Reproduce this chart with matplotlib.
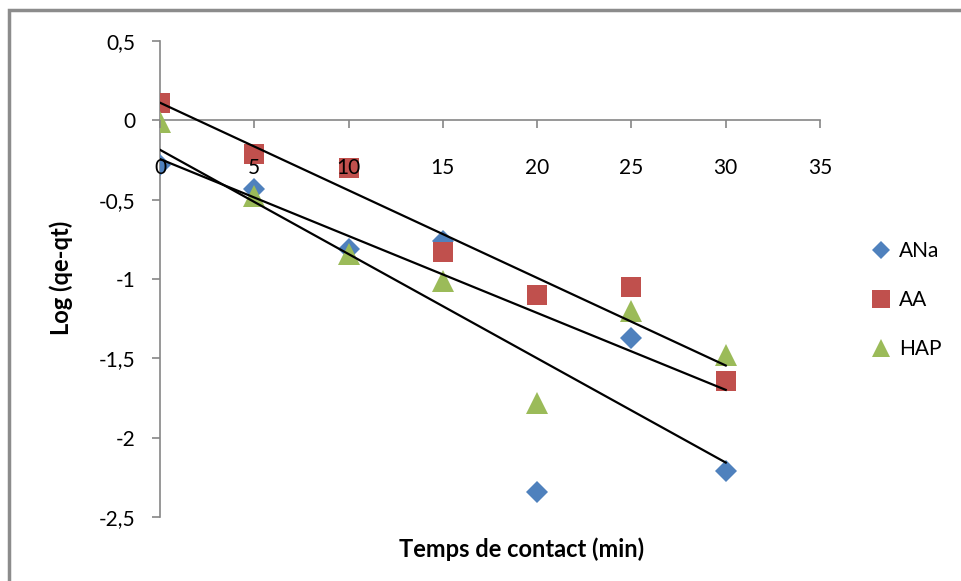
import numpy as np
import matplotlib
matplotlib.use("Agg")
import matplotlib.pyplot as plt
from matplotlib.patches import Rectangle
from matplotlib.ticker import FuncFormatter

plt.rcParams['font.family'] = ['Lato', 'DejaVu Sans']

time = [0, 5, 10, 15, 20, 25, 30]
ana = [-0.28, -0.43, -0.81, -0.76, -2.34, -1.37, -2.21]
aa = [0.11, -0.21, -0.30, -0.83, -1.10, -1.05, -1.64]
hap = [-0.01, -0.48, -0.84, -1.01, -1.78, -1.20, -1.48]
series_names = ['ANa', 'AA', 'HAP']
x_ticks = [0, 5, 10, 15, 20, 25, 30, 35]
y_ticks = [-2.5, -2, -1.5, -1, -0.5, 0, 0.5]

colors = ['#4F81BD', '#C0504D', '#9BBB59']
markers = ['D', 's', '^']
msizes = [11, 15, 15.5]

fig = plt.figure(figsize=(9.61, 5.81), dpi=100)
ax = fig.add_axes([0.1665, 0.1102, 0.8533 - 0.1665, 0.9294 - 0.1102])
ax.set_axisbelow(False)

for data, name, c, m, s in zip([ana, aa, hap], series_names, colors, markers, msizes):
    ax.plot(time, data, linestyle='none', marker=m, markersize=s, color=c,
            markeredgewidth=0, label=name, zorder=2)

t = np.array(time, dtype=float)
for data in [ana, aa, hap]:
    k, b = np.polyfit(t, np.array(data), 1)
    ax.plot([t[0], t[-1]], [b, k * t[-1] + b], color='black', lw=1.6, zorder=2.2)

ax.set_xlim(0, 35)
ax.set_ylim(-2.5, 0.5)
ax.set_xticks(x_ticks)
ax.set_yticks(y_ticks)
fmt = FuncFormatter(lambda v, p: ('%g' % v).replace('.', ','))
ax.xaxis.set_major_formatter(fmt)
ax.yaxis.set_major_formatter(fmt)

ax.spines['top'].set_visible(False)
ax.spines['right'].set_visible(False)
ax.spines['bottom'].set_position(('data', 0))
ax.spines['left'].set_position(('data', 0))
for sp in ['bottom', 'left']:
    ax.spines[sp].set_color('#868686')
    ax.spines[sp].set_linewidth(1.2)
    ax.spines[sp].set_zorder(1)
ax.tick_params(axis='x', direction='out', length=6, width=1.2, color='#868686',
               labelsize=15, pad=21)
ax.tick_params(axis='y', direction='out', length=6, width=1.2, color='#868686',
               labelsize=15, pad=12)

fig.text(522 / 961, 1 - 549 / 581, 'Temps de contact (min)', fontsize=17, fontweight='bold',
         ha='center', va='center')
fig.text(61 / 961, 1 - 278 / 581, 'Log (qe-qt)', fontsize=17, fontweight='bold',
         ha='center', va='center', rotation=90)

leg = fig.legend(loc='upper left', bbox_to_anchor=(0.904, 1 - 241 / 581), frameon=False,
                 fontsize=15, labelspacing=1.4, handletextpad=0.25, handlelength=1.2,
                 markerscale=0.85, borderaxespad=0, borderpad=0)

fig.add_artist(Rectangle((9 / 961, -0.1), 1.2, 1 - 10 / 581 + 0.1,
                         transform=fig.transFigure, fill=False,
                         edgecolor='#8c8c8c', lw=2.5))

fig.savefig('out.png', dpi=100)
